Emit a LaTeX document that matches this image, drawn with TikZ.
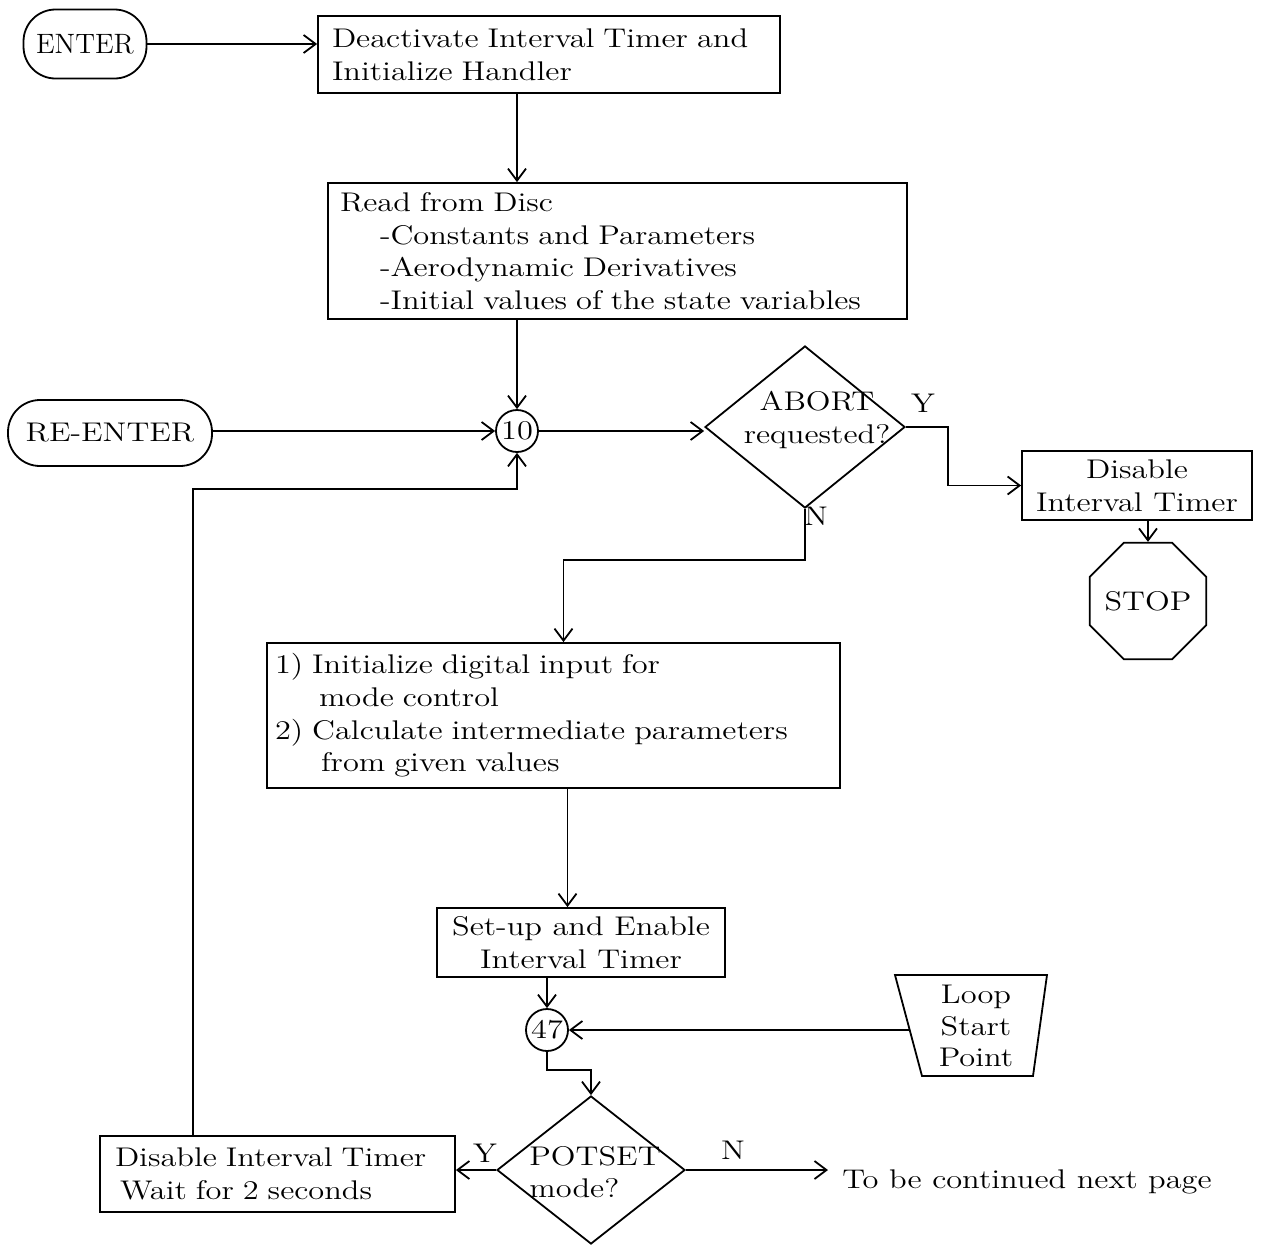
\documentclass[tikz,border=0pt]{standalone}
\usepackage{fontspec}
\setmainfont{Latin Modern Roman}[FakeStretch=1.2]
\newfontfamily\plainroman{Latin Modern Roman}
\usetikzlibrary{shapes.geometric,arrows.meta}
\begin{document}
\begin{tikzpicture}[x=0.5pt,y=-0.5pt,
  every node/.style={font=\fontsize{13.5}{16.3}\selectfont},
  line/.style={line width=0.9pt},
  arrow/.style={line width=0.9pt,-{Straight Barb[length=6pt,width=9pt]}},
  procbox/.style={draw,line width=0.9pt,rectangle,inner ysep=2pt},
  terminal/.style={draw,line width=0.9pt,rectangle,rounded corners=16pt,inner sep=0pt},
  connector/.style={draw,line width=0.9pt,circle,minimum size=21pt,inner sep=0pt},
  decision/.style={draw,line width=0.9pt,diamond,inner sep=0pt},
  stopsign/.style={draw,line width=0.9pt,regular polygon,regular polygon sides=8,minimum size=63pt,inner sep=0pt},
  flag/.style={inner sep=0pt}
]
\useasboundingbox (0,0) rectangle (1265,1249);

% terminals
\node[terminal,minimum width=61.5pt,minimum height=34.5pt,font=\plainroman\fontsize{14}{16}\selectfont] (enter) at (85,44) {ENTER};
\node[terminal,minimum width=102pt,minimum height=33pt] (reenter) at (110,433) {RE-ENTER};

% process boxes
\node[procbox,align=left,inner xsep=7pt,text width=217pt,minimum height=38.5pt] (init) at (549,54.5)
  {Deactivate Interval Timer and\\Initialize Handler};
\node[procbox,align=left,inner xsep=6pt,text width=277.5pt,minimum height=68pt] (readdisc) at (617.5,251)
  {Read from Disc\\
   \hspace*{20pt}-Constants and Parameters\\
   \hspace*{20pt}-Aerodynamic Derivatives\\
   \hspace*{20pt}-Initial values of the state variables};
\node[procbox,align=left,inner xsep=4pt,text width=278.5pt,minimum height=72.5pt] (calc) at (553.5,715.5)
  {1) Initialize digital input for\\
   \hspace*{22pt}mode control\\
   2) Calculate intermediate parameters\\
   \hspace*{23pt}from given values};
\node[procbox,align=center,inner sep=0pt,minimum width=144pt,minimum height=34.5pt] (enable) at (581,942.5)
  {Set-up and Enable\\Interval Timer};
\node[procbox,align=center,inner sep=0pt,minimum width=115pt,minimum height=34.5pt] (disable) at (1137,485.5)
  {Disable\\Interval Timer};
\node[procbox,align=left,inner xsep=7.5pt,text width=162.5pt,minimum height=38pt] (wait) at (277.5,1174)
  {Disable Interval Timer\\\hspace*{2.5pt}Wait for 2 seconds};

% connectors
\node[connector] (c10) at (517,431) {10};
\node[connector] (c47) at (547,1030) {47};

% decisions
\node[decision,minimum width=100pt,minimum height=81pt] (abort) at (805,427) {};
\node[flag,align=center] (aborttext) at (817,420) {ABORT\\requested?};
\node[decision,minimum width=94pt,minimum height=74pt] (potset) at (591,1170) {};
\node[flag,align=left,anchor=west] (potsettext) at (529,1172) {POTSET\\mode?};

% stop
\node[stopsign,label={center:STOP}] (stop) at (1148,601) {};

% loop start point
\draw[line] (895,975) -- (1047,975) -- (1033,1076) -- (922,1076) -- cycle;
\node[flag,align=center,font=\fontsize{13.5}{15.8}\selectfont] (loop) at (976,1026) {Loop\\Start\\Point};
\coordinate (loopin) at (910,1030);

% continuation text
\node[flag,anchor=west] (cont) at (842,1182) {To be continued next page};

% branch labels
\node[flag] (abortY) at (923,403) {Y};
\node[flag] (abortN) at (816,516) {N};
\node[flag] (potY) at (485,1153) {Y};
\node[flag] (potN) at (733,1150) {N};

% flow lines
\draw[arrow] (enter.east) -- (enter.east -| init.west);
\draw[arrow] (init.south -| c10) -- (readdisc.north -| c10);
\draw[arrow] (readdisc.south -| c10) -- (c10.north);
\draw[arrow] (reenter.east |- c10.west) -- (c10.west);
\draw[arrow] (c10.east) -- (c10.east -| abort.west);
\draw[arrow] (abort.east) -- ++(42,0) |- (disable.west);
\draw[arrow] (stop.north |- disable.south) -- (stop.north);
\draw[arrow] (abort.south) -- ++(0,51) -| ([xshift=5pt]calc.north);
\draw[arrow] ([xshift=7pt]calc.south) -- ([xshift=7pt]calc.south |- enable.north);
\draw[arrow] (enable.south -| c47) -- (c47.north);
\draw[arrow] (loopin) -- (loopin -| c47.east);
\draw[arrow] (c47.south) -- ++(0,18) -| (potset.north);
\draw[arrow] (potset.west) -- (potset.west -| wait.east);
\draw[arrow] (potset.east) -- ([xshift=-7pt]cont.west |- potset.east);
\draw[arrow] ([xshift=-42.25pt]wait.north) -- ++(0,-646) -| (c10.south);
\end{tikzpicture}
\end{document}
